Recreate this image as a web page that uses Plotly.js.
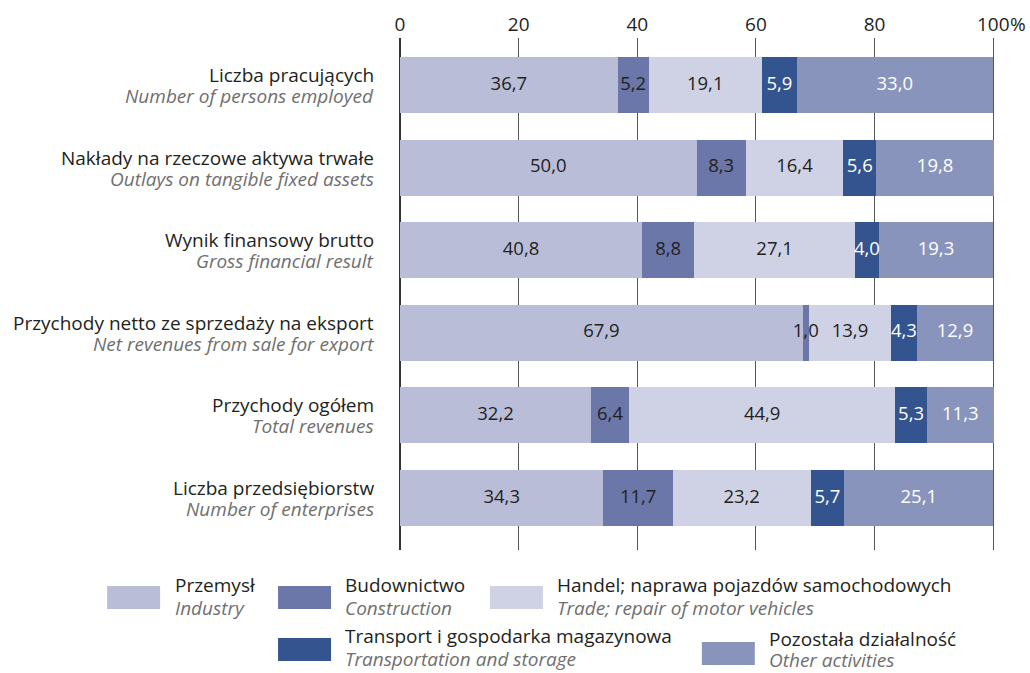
<!DOCTYPE html>
<html>
<head>
<meta charset="utf-8">
<script src="https://cdn.plot.ly/plotly-3.0.1.min.js"></script>
<style>html,body{margin:0;padding:0;background:#fff;}#chart{width:1030px;height:673px;}</style>
</head>
<body>
<div id="chart"></div>
<script>
var categoriesPL = ["Liczba pracujących", "Nakłady na rzeczowe aktywa trwałe", "Wynik finansowy brutto", "Przychody netto ze sprzedaży na eksport", "Przychody ogółem", "Liczba przedsiębiorstw"];
var categoriesEN = ["Number of persons employed", "Outlays on tangible fixed assets", "Gross financial result", "Net revenues from sale for export", "Total revenues", "Number of enterprises"];
var seriesPL = ["Przemysł", "Budownictwo", "Handel; naprawa pojazdów samochodowych", "Transport i gospodarka magazynowa", "Pozostała działalność"];
var seriesEN = ["Industry", "Construction", "Trade; repair of motor vehicles", "Transportation and storage", "Other activities"];
var industry     = [36.7, 50.0, 40.8, 67.9, 32.2, 34.3];
var construction = [5.2, 8.3, 8.8, 1.0, 6.4, 11.7];
var trade        = [19.1, 16.4, 27.1, 13.9, 44.9, 23.2];
var transport    = [5.9, 5.6, 4.0, 4.3, 5.3, 5.7];
var other        = [33.0, 19.8, 19.3, 12.9, 11.3, 25.1];
var xTickVals = [0, 20, 40, 60, 80, 100];
var xTickText = ["0", "20", "40", "60", "80", "100"];

var values = [industry, construction, trade, transport, other];
var colors = ["#b9bdd8", "#6b77a9", "#cfd2e5", "#33548e", "#8994bd"];
var textColors = ["#231f20", "#231f20", "#231f20", "#ffffff", "#ffffff"];
var FONT = "Open Sans, sans-serif";
var FS = 19;
var FSV = 18.5;
var DARK = "#231f20", GREY = "#6f6f6f";

var yIdx = categoriesPL.map(function(_, i){ return i; });
var traces = values.map(function(v, k){
  return {
    type: "bar", orientation: "h",
    x: v, y: yIdx, width: 0.68,
    name: seriesPL[k],
    marker: {color: colors[k], line: {width: 0}},
    hoverinfo: "skip", showlegend: false
  };
});

// value labels drawn on top of all bars (centre of each stacked segment)
var lx = [], ly = [], lt = [], lc = [];
yIdx.forEach(function(i){
  var base = 0;
  values.forEach(function(v, k){
    lx.push(base + v[i] / 2);
    ly.push(i);
    lt.push(v[i].toFixed(1).replace(".", ","));
    lc.push(textColors[k]);
    base += v[i];
  });
});
traces.push({
  type: "scatter", mode: "text", x: lx, y: ly, text: lt,
  textposition: "middle center",
  textfont: {family: FONT, size: FSV, color: lc},
  hoverinfo: "skip", showlegend: false, cliponaxis: false
});

// plot area in pixels: x 400..993.5 (0..100), y 38..550
var L = 400, T = 38, B = 123;
var xMax = 100.3;
var plotW = 593.5 * xMax / 100;
var R = 1030 - L - plotW;
var plotH = 673 - T - B;
function px(x){ return (x - L) / plotW; }
function py(y){ return (673 - B - y) / plotH; }

var shapes = [], annotations = [];

// category labels (two lines each)
categoriesPL.forEach(function(p, i){
  annotations.push({xref: "paper", yref: "y", x: 0, y: i, xanchor: "right", yanchor: "middle",
    xshift: -24, yshift: 10, showarrow: false, text: p, align: "right",
    font: {family: FONT, size: FS, color: DARK}});
  annotations.push({xref: "paper", yref: "y", x: 0, y: i, xanchor: "right", yanchor: "middle",
    xshift: -24, yshift: -11, showarrow: false, text: "<i>" + categoriesEN[i] + "</i>", align: "right",
    font: {family: FONT, size: FS, color: GREY}});
});

// legend
var legendPos = [
  {x0: 107, y0: 586, tx: 173, l1: 585, l2: 608},
  {x0: 278, y0: 586, tx: 343, l1: 585, l2: 608},
  {x0: 490, y0: 586, tx: 555, l1: 585, l2: 608},
  {x0: 278, y0: 638, tx: 343, l1: 636, l2: 659},
  {x0: 702, y0: 642, tx: 767, l1: 639, l2: 660}
];
legendPos.forEach(function(p, k){
  shapes.push({type: "rect", xref: "paper", yref: "paper",
    x0: px(p.x0), x1: px(p.x0 + 53), y0: py(p.y0), y1: py(p.y0 + 23),
    fillcolor: colors[k], line: {width: 0}});
  annotations.push({xref: "paper", yref: "paper", x: px(p.tx), y: py(p.l1),
    xanchor: "left", yanchor: "middle", showarrow: false, text: seriesPL[k],
    font: {family: FONT, size: FS, color: DARK}});
  annotations.push({xref: "paper", yref: "paper", x: px(p.tx), y: py(p.l2),
    xanchor: "left", yanchor: "middle", showarrow: false, text: "<i>" + seriesEN[k] + "</i>",
    font: {family: FONT, size: FS, color: GREY}});
});
annotations.push({xref: "x", yref: "paper", x: 100, y: py(24), xanchor: "left", yanchor: "middle",
  xshift: 15, showarrow: false, text: "%",
  font: {family: FONT, size: FS, color: DARK}});

var layout = {
  width: 1030, height: 673,
  margin: {l: L, r: R, t: T, b: B, pad: 0},
  paper_bgcolor: "#fff", plot_bgcolor: "#fff",
  barmode: "stack", showlegend: false,
  font: {family: FONT, size: FS, color: DARK},
  xaxis: {side: "top", range: [0, xMax], tickvals: xTickVals, ticktext: xTickText,
    showgrid: true, gridcolor: "#555", gridwidth: 1, zeroline: true, zerolinecolor: "#333", zerolinewidth: 1.5,
    showline: false, ticks: "", ticklabelstandoff: 2, fixedrange: true,
    tickfont: {family: FONT, size: FS, color: DARK}},
  yaxis: {range: [5.63, -0.57], tickvals: yIdx, showticklabels: false,
    showgrid: false, zeroline: false, showline: false, ticks: "", fixedrange: true},
  shapes: shapes, annotations: annotations
};

Plotly.newPlot("chart", traces, layout, {displayModeBar: false, staticPlot: true});
</script>
</body>
</html>
